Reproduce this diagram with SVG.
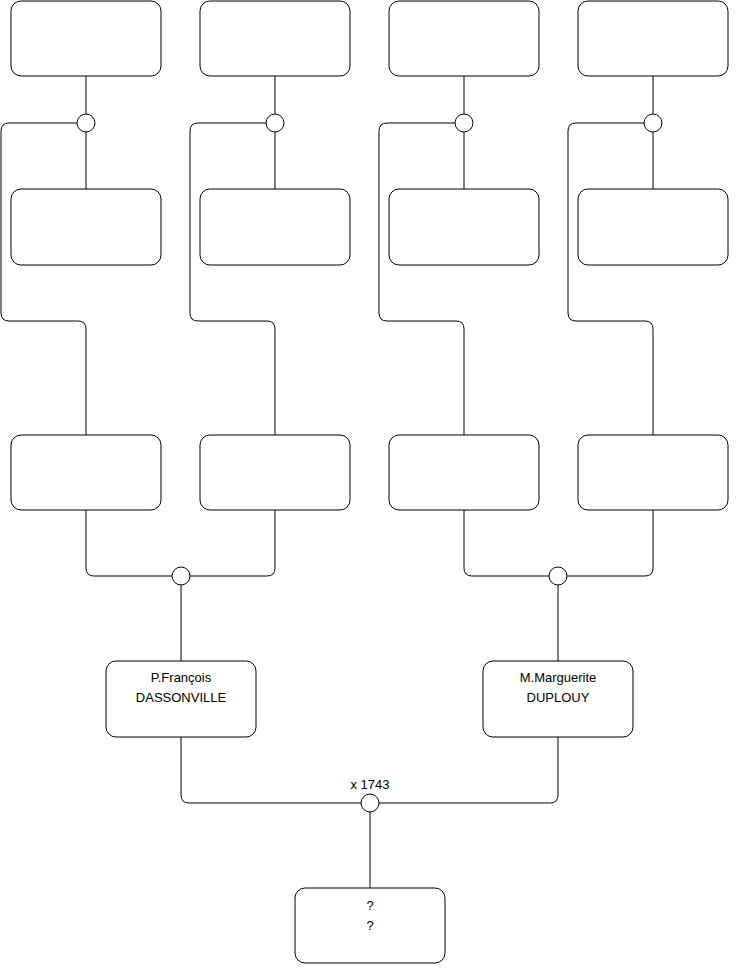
<svg xmlns="http://www.w3.org/2000/svg" width="740" height="975" viewBox="0 0 740 975">
<style>
.box{fill:#fff;stroke:#000;stroke-width:1}
.c{fill:#fff;stroke:#000;stroke-width:1}
.l{fill:none;stroke:#000;stroke-width:1}
text{font-family:"Liberation Sans",Arial,sans-serif;font-size:13px;fill:#000;text-anchor:middle}
</style>
<rect width="740" height="975" fill="#fff"/>
<g id="connectors">
<path class="l" d="M86,76V114M86,132V189M77,123H9Q1,123 1,131V313Q1,321 9,321H78Q86,321 86,329V435"/>
<path class="l" d="M275,76V114M275,132V189M266,123H198Q190,123 190,131V313Q190,321 198,321H267Q275,321 275,329V435"/>
<path class="l" d="M464,76V114M464,132V189M455,123H387Q379,123 379,131V313Q379,321 387,321H456Q464,321 464,329V435"/>
<path class="l" d="M653,76V114M653,132V189M644,123H576Q568,123 568,131V313Q568,321 576,321H645Q653,321 653,329V435"/>
<path class="l" d="M86,510V568Q86,576 94,576H172M275,510V568Q275,576 267,576H190M181,585V661"/>
<path class="l" d="M464,510V568Q464,576 472,576H549M653,510V568Q653,576 645,576H567M558,585V661"/>
<path class="l" d="M181,737V795Q181,803 189,803H361M558,737V795Q558,803 550,803H379M370,812V888"/>
</g>
<g id="j1"><circle class="c" cx="86" cy="123" r="9"/></g>
<g id="j2"><circle class="c" cx="275" cy="123" r="9"/></g>
<g id="j3"><circle class="c" cx="464" cy="123" r="9"/></g>
<g id="j4"><circle class="c" cx="653" cy="123" r="9"/></g>
<g id="j5"><circle class="c" cx="181" cy="576" r="9"/></g>
<g id="j6"><circle class="c" cx="558" cy="576" r="9"/></g>
<g id="j7"><circle class="c" cx="370" cy="803" r="9"/><text x="370" y="789">x 1743</text></g>
<g id="n1"><rect class="box" x="11" y="1" width="150" height="75" rx="10"/></g>
<g id="n2"><rect class="box" x="200" y="1" width="150" height="75" rx="10"/></g>
<g id="n3"><rect class="box" x="389" y="1" width="150" height="75" rx="10"/></g>
<g id="n4"><rect class="box" x="578" y="1" width="150" height="75" rx="10"/></g>
<g id="n5"><rect class="box" x="11" y="189" width="150" height="76" rx="10"/></g>
<g id="n6"><rect class="box" x="200" y="189" width="150" height="76" rx="10"/></g>
<g id="n7"><rect class="box" x="389" y="189" width="150" height="76" rx="10"/></g>
<g id="n8"><rect class="box" x="578" y="189" width="150" height="76" rx="10"/></g>
<g id="n9"><rect class="box" x="11" y="435" width="150" height="75" rx="10"/></g>
<g id="n10"><rect class="box" x="200" y="435" width="150" height="75" rx="10"/></g>
<g id="n11"><rect class="box" x="389" y="435" width="150" height="75" rx="10"/></g>
<g id="n12"><rect class="box" x="578" y="435" width="150" height="75" rx="10"/></g>
<g id="n13"><rect class="box" x="106" y="661" width="150" height="76" rx="10"/><text x="181" y="682">P.François</text><text x="181" y="702">DASSONVILLE</text></g>
<g id="n14"><rect class="box" x="483" y="661" width="150" height="76" rx="10"/><text x="558" y="682">M.Marguerite</text><text x="558" y="702">DUPLOUY</text></g>
<g id="n15"><rect class="box" x="295" y="888" width="150" height="75" rx="10"/><text x="370" y="910">?</text><text x="370" y="930">?</text></g>
</svg>
